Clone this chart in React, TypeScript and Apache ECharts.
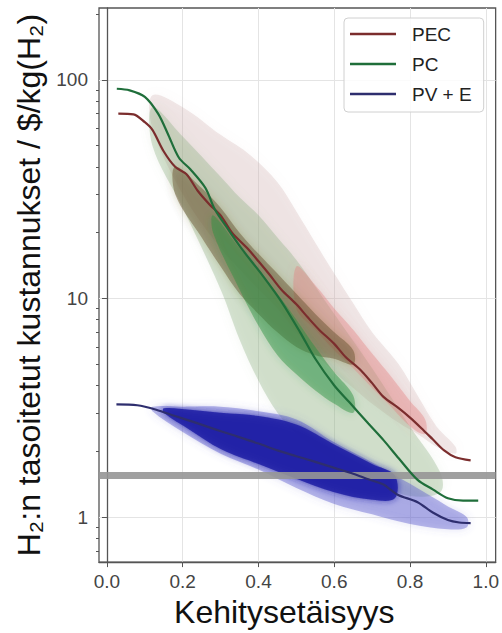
import React, { useEffect, useRef } from 'react';
import * as echarts from 'echarts';

// ---- line data ----
const pecX = [0.03, 0.07, 0.10, 0.12, 0.15, 0.18, 0.21, 0.24, 0.27, 0.30, 0.33, 0.37, 0.40, 0.43, 0.46, 0.50, 0.53, 0.56, 0.60, 0.63, 0.67, 0.70, 0.73, 0.77, 0.80, 0.83, 0.86, 0.89, 0.92, 0.96];
const pecY = [70, 69.5, 64, 59, 47, 40, 37, 31, 27, 24, 20, 17, 14.8, 12.8, 11, 9.4, 8.2, 7.2, 6.2, 5.4, 4.7, 4.1, 3.55, 3.15, 2.85, 2.55, 2.27, 2.02, 1.88, 1.82];

const pcX = [0.026, 0.06, 0.10, 0.135, 0.16, 0.19, 0.22, 0.26, 0.285, 0.32, 0.36, 0.41, 0.46, 0.51, 0.55, 0.60, 0.64, 0.69, 0.73, 0.77, 0.82, 0.86, 0.90, 0.94, 0.98];
const pcY = [91, 89.5, 83.5, 70, 57, 44, 39, 32, 25.5, 20.7, 16.5, 12.8, 9.7, 7.0, 5.3, 4.0, 3.35, 2.68, 2.25, 1.86, 1.48, 1.34, 1.22, 1.19, 1.19];

const pvX = [0.025, 0.08, 0.13, 0.18, 0.23, 0.28, 0.33, 0.40, 0.45, 0.50, 0.55, 0.60, 0.65, 0.69, 0.73, 0.75, 0.77, 0.82, 0.86, 0.90, 0.93, 0.96];
const pvY = [3.28, 3.25, 3.1, 2.9, 2.72, 2.54, 2.38, 2.17, 2.02, 1.9, 1.79, 1.68, 1.58, 1.49, 1.41, 1.33, 1.26, 1.17, 1.05, 0.97, 0.945, 0.94];

const targetCost = 1.55;

// ---- point clouds, given as bands (upper / lower edges) ----
const redCloudX = [0.12, 0.20, 0.30, 0.38, 0.45, 0.50, 0.55, 0.60, 0.65, 0.70, 0.77, 0.82, 0.87, 0.92];
const redCloudHi = [85, 75, 56, 45, 34, 25, 18, 13, 9.5, 7, 5, 3.6, 2.6, 2.1];
const redCloudLo = [60, 30, 17, 12, 9, 7, 5.6, 4.6, 3.9, 3.3, 2.7, 2.4, 2.1, 1.95];

const greenCloudX = [0.12, 0.20, 0.30, 0.35, 0.40, 0.45, 0.50, 0.60, 0.70, 0.80, 0.88];
const greenCloudHi = [75, 55, 36, 29, 24, 19, 15, 8.5, 4.8, 2.6, 1.6];
const greenCloudLo = [50, 26, 11, 6.5, 4.2, 3.0, 2.4, 1.8, 1.45, 1.25, 1.3];

const brownCoreX = [0.18, 0.25, 0.30, 0.35, 0.40, 0.45, 0.50, 0.55, 0.60, 0.65];
const brownCoreHi = [40, 32, 26, 20, 16, 13, 10.5, 8.5, 7, 5.8];
const brownCoreLo = [30, 19, 14, 10.5, 8.5, 7, 6, 5.5, 5.3, 5.0];

const greenCoreX = [0.28, 0.35, 0.40, 0.45, 0.50, 0.55, 0.60, 0.65];
const greenCoreHi = [24, 17, 13.5, 10.5, 8, 6, 4.6, 3.6];
const greenCoreLo = [20, 11, 7.5, 5.5, 4.5, 3.8, 3.3, 3.0];

const pinkCoreX = [0.50, 0.55, 0.60, 0.65, 0.70, 0.75, 0.80, 0.84];
const pinkCoreHi = [14, 11.5, 9, 7.2, 5.6, 4.4, 3.4, 2.8];
const pinkCoreLo = [9, 7.2, 5.8, 4.8, 3.9, 3.2, 2.6, 2.4];

const blueCloudX = [0.12, 0.20, 0.30, 0.40, 0.50, 0.60, 0.70, 0.80, 0.90, 0.95];
const blueCloudHi = [3.2, 3.2, 3.2, 3.05, 2.8, 2.2, 1.78, 1.42, 1.12, 1.0];
const blueCloudLo = [3.05, 2.45, 1.95, 1.65, 1.36, 1.15, 1.03, 0.93, 0.88, 0.9];

const blueCoreX = [0.15, 0.22, 0.30, 0.40, 0.50, 0.60, 0.70, 0.76];
const blueCoreHi = [3.15, 3.1, 3.0, 2.9, 2.65, 2.15, 1.75, 1.55];
const blueCoreLo = [3.0, 2.5, 2.05, 1.75, 1.5, 1.3, 1.2, 1.22];

// ---- axes ----
const xTicks = [0, 0.2, 0.4, 0.6, 0.8, 1.0];
const yMajor = [1, 10, 100];
const yMinor = [0.7, 0.8, 0.9, 2, 3, 4, 5, 6, 7, 8, 9, 20, 30, 40, 50, 60, 70, 80, 90, 200];
const xMin = -0.021;
const xMax = 1.026;
const yMin = 0.623;
const yMax = 213;

const FONT = '"Liberation Sans", Arial, Helvetica, sans-serif';

const zip = (xs: number[], ys: number[]) => xs.map((x, i) => [x, ys[i]]);

function band(xs: number[], hi: number[], lo: number[], fill: string, blur: number) {
  return {
    type: 'custom',
    coordinateSystem: 'cartesian2d',
    silent: true,
    clip: true,
    data: [[xs[0], hi[0]]],
    renderItem: (_p: any, api: any) => {
      const pts: number[][] = [];
      for (let i = 0; i < xs.length; i++) pts.push(api.coord([xs[i], hi[i]]));
      for (let i = xs.length - 1; i >= 0; i--) pts.push(api.coord([xs[i], lo[i]]));
      return {
        type: 'polygon',
        shape: { points: pts, smooth: 0.35 },
        style: { fill, shadowBlur: blur, shadowColor: fill },
        silent: true,
      };
    },
  };
}

export default function App() {
  const ref = useRef<HTMLDivElement>(null);
  useEffect(() => {
    if (!ref.current) return;
    const chart = echarts.init(ref.current, undefined, { renderer: 'svg' });
    const axisColor = '#555';
    const option: any = {
      animation: false,
      backgroundColor: '#fff',
      grid: {
        left: 99, right: 6, top: 8, bottom: 70,
        show: true, borderColor: axisColor, borderWidth: 1.3, backgroundColor: 'transparent',
      },
      legend: {
        orient: 'vertical',
        left: 344,
        top: 18,
        data: ['PEC', 'PC', 'PV + E'],
        icon: 'rect',
        itemWidth: 46,
        itemHeight: 2.5,
        itemGap: 10,
        padding: [6, 12, 8, 6],
        borderColor: '#d0d0d0',
        borderWidth: 1,
        borderRadius: 4,
        backgroundColor: 'rgba(255,255,255,0.85)',
        textStyle: { fontFamily: FONT, fontSize: 19, color: '#222', lineHeight: 20, padding: [0, 0, 0, 11] },
      },
      xAxis: {
        type: 'value',
        min: xMin,
        max: xMax,
        name: 'Kehitysetäisyys',
        nameLocation: 'middle',
        nameGap: 28,
        nameTextStyle: { fontFamily: FONT, fontSize: 32, color: '#111', padding: [0, 26, 0, 0] },
        axisLine: { show: true, lineStyle: { color: axisColor, width: 1.3 } },
        axisTick: { show: true, length: 5, customValues: xTicks, lineStyle: { color: axisColor } },
        axisLabel: {
          customValues: xTicks,
          margin: 10,
          fontFamily: FONT,
          fontSize: 19,
          color: '#444',
          formatter: (v: number) => v.toFixed(1),
        },
        splitLine: { show: true, lineStyle: { color: '#e4e4e4', width: 1 } },
      },
      yAxis: [
        {
          type: 'log',
          min: yMin,
          max: yMax,
          name: 'H₂:n tasoitetut kustannukset / $/kg(H₂)',
          nameLocation: 'middle',
          nameGap: 52,
          nameTextStyle: { fontFamily: FONT, fontSize: 32, color: '#111' },
          axisLine: { show: true, lineStyle: { color: axisColor, width: 1.3 } },
          axisTick: { show: true, length: 5, customValues: yMajor, lineStyle: { color: axisColor } },
          axisLabel: {
            customValues: yMajor,
            margin: 11,
            fontFamily: FONT,
            fontSize: 19,
            color: '#444',
            formatter: (v: number) => String(Math.round(v)),
          },
          splitLine: { show: true, lineStyle: { color: '#e4e4e4', width: 1 } },
        },
        {
          type: 'log',
          min: yMin,
          max: yMax,
          position: 'left',
          axisLine: { show: false },
          axisTick: { show: true, length: 3, customValues: yMinor, lineStyle: { color: axisColor } },
          axisLabel: { show: false },
          splitLine: { show: false },
        },
      ],
      series: [
        band(redCloudX, redCloudHi, redCloudLo, 'rgba(200,165,165,0.26)', 10),
        band(greenCloudX, greenCloudHi, greenCloudLo, 'rgba(135,170,120,0.32)', 10),
        band(pinkCoreX, pinkCoreHi, pinkCoreLo, 'rgba(225,125,125,0.38)', 8),
        band(brownCoreX, brownCoreHi, brownCoreLo, 'rgba(100,80,40,0.45)', 8),
        band(greenCoreX, greenCoreHi, greenCoreLo, 'rgba(45,145,65,0.45)', 8),
        band(blueCloudX, blueCloudHi, blueCloudLo, 'rgba(90,90,205,0.42)', 8),
        band(blueCoreX, blueCoreHi, blueCoreLo, 'rgba(30,30,165,0.85)', 6),
        {
          type: 'line',
          name: 'target',
          silent: true,
          symbol: 'none',
          data: [[xMin, targetCost], [xMax, targetCost]],
          lineStyle: { color: 'rgba(150,150,150,0.9)', width: 7 },
        },
        {
          type: 'line', name: 'PEC', data: zip(pecX, pecY), symbol: 'none', smooth: 0.3,
          color: '#7b2d2d', lineStyle: { width: 2.2, color: '#7b2d2d' },
        },
        {
          type: 'line', name: 'PC', data: zip(pcX, pcY), symbol: 'none', smooth: 0.3,
          color: '#1f6e3a', lineStyle: { width: 2.2, color: '#1f6e3a' },
        },
        {
          type: 'line', name: 'PV + E', data: zip(pvX, pvY), symbol: 'none', smooth: 0.3,
          color: '#2e2e6e', lineStyle: { width: 2.2, color: '#2e2e6e' },
        },
      ],
    };
    chart.setOption(option);
    return () => chart.dispose();
  }, []);
  return (
    <div
      ref={ref}
      style={{ position: 'fixed', left: 0, top: 0, width: 502, height: 633, background: '#fff' }}
    />
  );
}
